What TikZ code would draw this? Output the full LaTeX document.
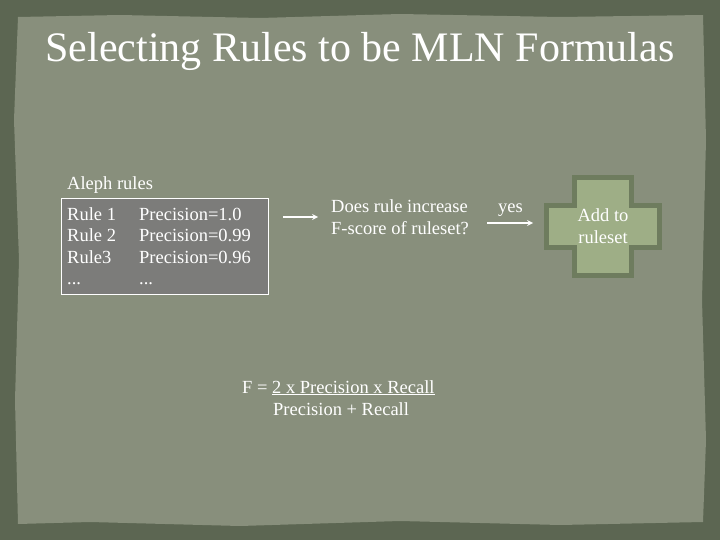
\documentclass[tikz,border=0pt]{standalone}
\usepackage{fontspec}
\setmainfont{Liberation Serif}
\usetikzlibrary{positioning}
\definecolor{frame}{RGB}{92,102,82}
\definecolor{paper}{RGB}{136,143,124}
\definecolor{rulesgray}{RGB}{124,124,122}
\definecolor{crossdark}{RGB}{110,124,94}
\definecolor{crosslight}{RGB}{158,174,134}
\tikzset{
  txt/.style={text=white, inner sep=0pt, font=\fontsize{18.5}{21.5}\selectfont},
  wire/.style={draw=white, line width=1.6pt, -stealth},
}

\begin{document}
\begin{tikzpicture}[x=1pt,y=-1pt]{
    \useasboundingbox (0,0) rectangle (720,540);
    \fill [frame] (0,0) rectangle (720,540);
    % torn paper
    \fill [paper] (18,17) -- (120,15) -- (260,18) -- (400,14) -- (560,17) -- (703,15)
        -- (706,140) -- (702,300) -- (706,440) -- (703,522)
        -- (560,525) -- (400,521) -- (240,526) -- (90,522) -- (18,524)
        -- (15,400) -- (19,260) -- (14,120) -- cycle;

    \node [txt, font=\fontsize{42}{48}\selectfont, anchor=base] (title) at (360,62) {Selecting Rules to be MLN Formulas};

    \node [txt, anchor=base west] (aleph) at (67,190) {Aleph rules};
    \node [anchor=north west, fill=rulesgray, draw=white, line width=1pt,
           minimum width=207pt, minimum height=96pt, inner sep=0pt] (rules) at (61,198) {};
    % multi-line nodes: base is the last line
    \node [txt, anchor=base west, align=left] (names) at (67,284.5) {Rule 1\\Rule 2\\Rule3\\...};
    \node [txt, anchor=base west, align=left] (precs) at (139,284.5) {Precision=1.0\\Precision=0.99\\Precision=0.96\\...};

    \node [txt, anchor=base west, align=left] (check) at (331,234.5) {Does rule increase\\F-score of ruleset?};
    \node [txt, anchor=base west] (yes) at (498,213) {yes};

    \fill [crosslight, draw=crossdark, line width=5pt]
        (574.5,177.5) -- (631.5,177.5) -- (631.5,205.5) -- (659.5,205.5) -- (659.5,247.5)
        -- (631.5,247.5) -- (631.5,275.5) -- (574.5,275.5) -- (574.5,247.5) -- (546.5,247.5)
        -- (546.5,205.5) -- (574.5,205.5) -- cycle;
    \node [txt, anchor=base, align=center] (add) at (603,243.5) {Add to\\ruleset};

    \coordinate (a1s) at (283,217);
    \coordinate (a1e) at (318,217);
    \coordinate (a2s) at (487,223);
    \coordinate (a2e) at (533,223);
    \draw [wire] (a1s) -- (a1e);
    \draw [wire] (a2s) -- (a2e);

    \node [txt, anchor=base west] (fnum) at (242,393) {F = \underline{2 x Precision x Recall}};
    \node [txt, anchor=base west] (fden) at (273,415) {Precision + Recall};
    }
\end{tikzpicture}
\end{document}
